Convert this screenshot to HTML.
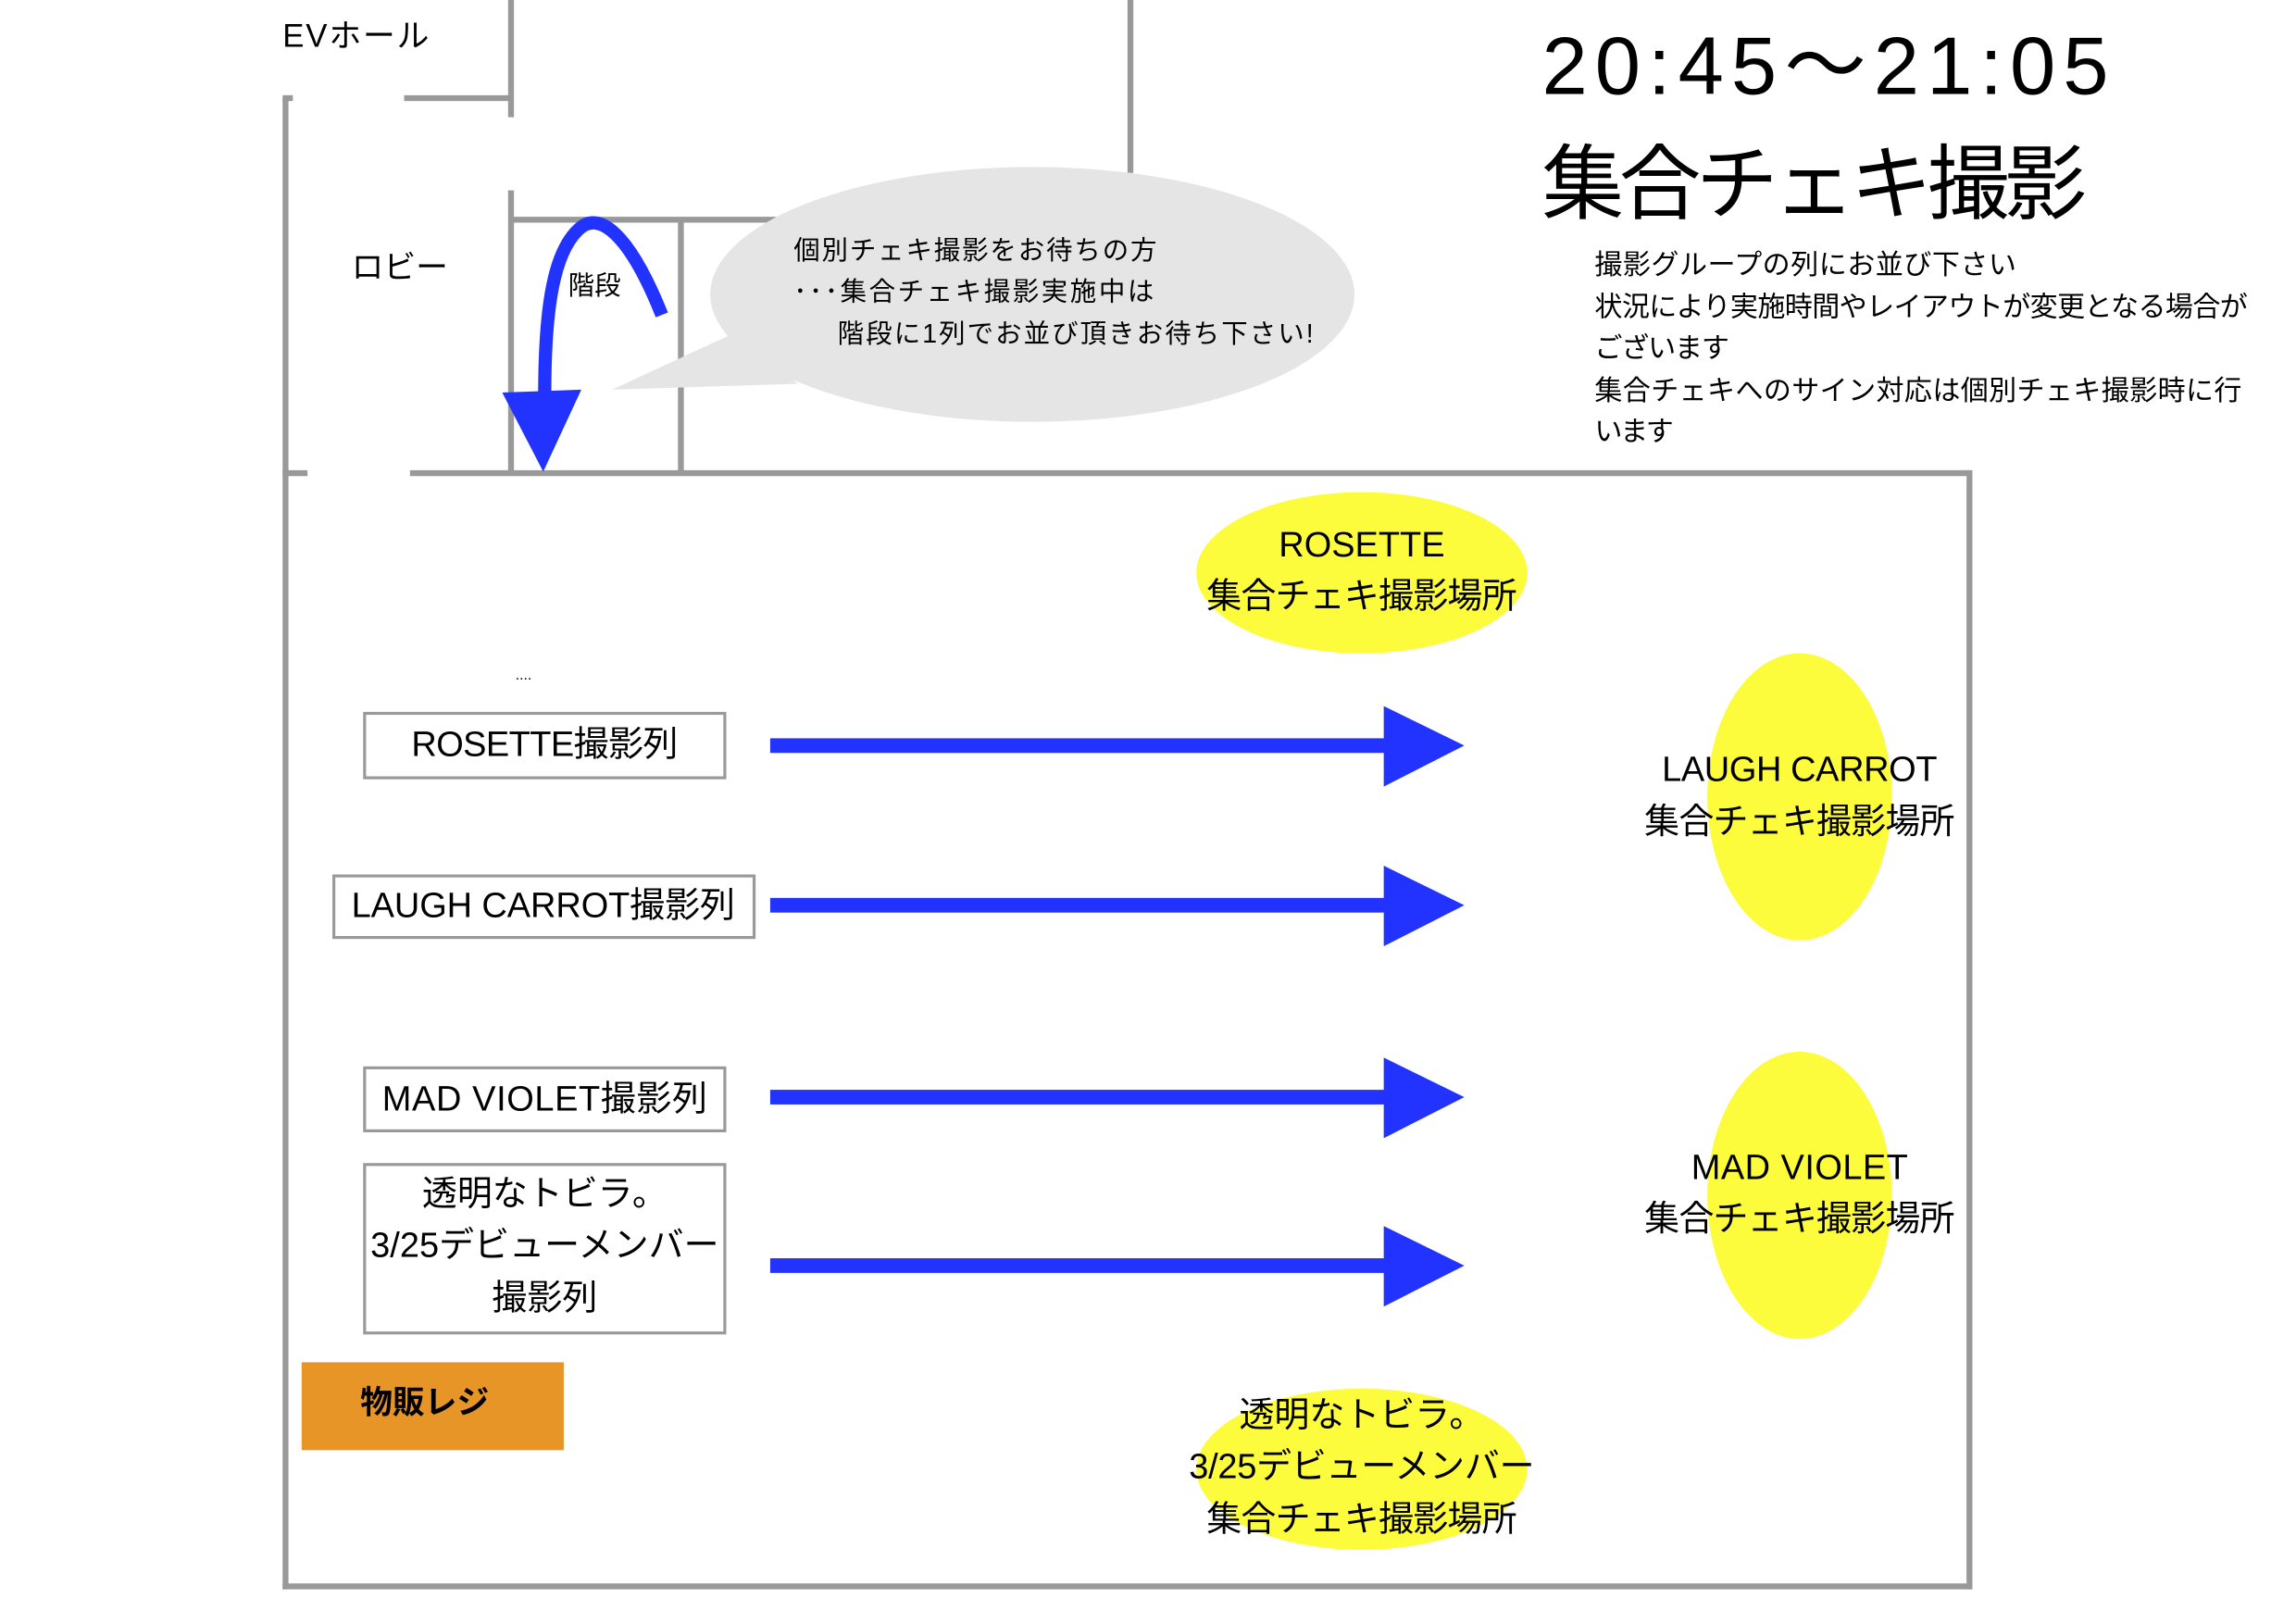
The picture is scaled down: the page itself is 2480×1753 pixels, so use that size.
<!DOCTYPE html>
<html><head><meta charset="utf-8"><style>
html,body{margin:0;padding:0;background:#fff;}
svg{display:block;}
text{font-family:"Liberation Sans","Noto Sans CJK JP",sans-serif;fill:#000;}
</style></head><body>
<svg width="2480" height="1753" viewBox="0 0 1568 1108" preserveAspectRatio="none">
<g stroke="#999" stroke-width="4" fill="none">
<line x1="195" y1="67" x2="195" y2="1085"/>
<line x1="193" y1="67" x2="200" y2="67"/>
<line x1="276" y1="67" x2="349" y2="67"/>
<line x1="349" y1="0" x2="349" y2="80"/>
<line x1="349" y1="130" x2="349" y2="323"/>
<line x1="772" y1="0" x2="772" y2="118"/>
<line x1="349" y1="150" x2="530" y2="150"/>
<line x1="465" y1="150" x2="465" y2="323"/>
<line x1="193" y1="323" x2="210" y2="323"/>
<line x1="280" y1="323" x2="1345" y2="323"/>
<line x1="1345" y1="321" x2="1345" y2="1085"/>
<line x1="193" y1="1083" x2="1347" y2="1083"/>
</g>
<text x="193" y="32" font-size="22" textLength="100">EVホール</text>
<text x="240" y="190" font-size="22">ロビー</text>
<ellipse cx="705" cy="201" rx="220" ry="87" fill="#e5e5e5"/>
<polygon points="418,266 500,228 545,262" fill="#e5e5e5"/>
<text font-size="18"><tspan x="542" y="177" textLength="248">個別チェキ撮影をお待ちの方</tspan></text>
<text font-size="18"><tspan x="542" y="205" textLength="246">･･･集合チェキ撮影実施中は</tspan></text>
<text font-size="18"><tspan x="572" y="234" textLength="325">階段に1列でお並び頂きお待ち下さい!</tspan></text>
<path d="M452,215 C430,160 410,145 397,155 C378,170 372,210 372,270" stroke="#2233ff" stroke-width="9" fill="none"/>
<polygon points="343,268 397,266 371,322" fill="#2233ff"/>
<text x="388" y="201" font-size="18">階段</text>
<text x="1053" y="64" font-size="56" textLength="387">20:45～21:05</text>
<text x="1053" y="145" font-size="56" textLength="372">集合チェキ撮影</text>
<g font-size="19">
<text x="1089" y="187" textLength="288">撮影グループの列にお並び下さい</text>
<text x="1089" y="216" textLength="446">状況により実施時間やレイアウトが変更となる場合が</text>
<text x="1089" y="244" textLength="92">ございます</text>
<text x="1089" y="273" textLength="442">集合チェキへのサイン対応は個別チェキ撮影時に行</text>
<text x="1089" y="301" textLength="54">います</text>
</g>
<g fill="#fcfc3c">
<ellipse cx="930" cy="391" rx="113" ry="55"/>
<ellipse cx="1229" cy="544" rx="63" ry="98"/>
<ellipse cx="1229" cy="816" rx="63" ry="98"/>
<ellipse cx="930" cy="1003" rx="113" ry="55"/>
</g>
<g font-size="24" text-anchor="middle">
<text x="930" y="380">ROSETTE</text><text x="930" y="415" textLength="212">集合チェキ撮影場所</text>
<text x="1229" y="533" textLength="188">LAUGH CARROT</text><text x="1229" y="569" textLength="212">集合チェキ撮影場所</text>
<text x="1229" y="805" textLength="148">MAD VIOLET</text><text x="1229" y="840" textLength="212">集合チェキ撮影場所</text>
<text x="930" y="974">透明なトビラ。</text><text x="930" y="1009" textLength="236">3/25デビューメンバー</text><text x="930" y="1045" textLength="212">集合チェキ撮影場所</text>
</g>
<g stroke="#999" stroke-width="2" fill="#fff">
<rect x="249" y="487" width="246" height="44"/>
<rect x="228" y="598" width="287" height="42"/>
<rect x="249" y="729" width="246" height="43"/>
<rect x="249" y="795" width="246" height="115"/>
</g>
<g font-size="24" text-anchor="middle">
<text x="372" y="516" textLength="182">ROSETTE撮影列</text>
<text x="371" y="626" textLength="262">LAUGH CARROT撮影列</text>
<text x="372" y="758" textLength="222">MAD VIOLET撮影列</text>
<text x="372" y="823">透明なトビラ。</text>
<text x="372" y="858" textLength="238">3/25デビューメンバー</text>
<text x="372" y="894">撮影列</text>
</g>
<rect x="206" y="930" width="179" height="60" fill="#e69526"/>
<text x="246" y="965" font-size="22" font-weight="bold">物販レジ</text>
<text x="352" y="464" font-size="10" fill="#999">....</text>
<g fill="#2233ff">
<rect x="526" y="504" width="422" height="10"/><polygon points="945,482 1000,509 945,537"/>
<rect x="526" y="613" width="422" height="10"/><polygon points="945,591 1000,618 945,646"/>
<rect x="526" y="744" width="422" height="10"/><polygon points="945,722 1000,749 945,777"/>
<rect x="526" y="859" width="422" height="10"/><polygon points="945,837 1000,864 945,892"/>
</g>
</svg>
</body></html>
